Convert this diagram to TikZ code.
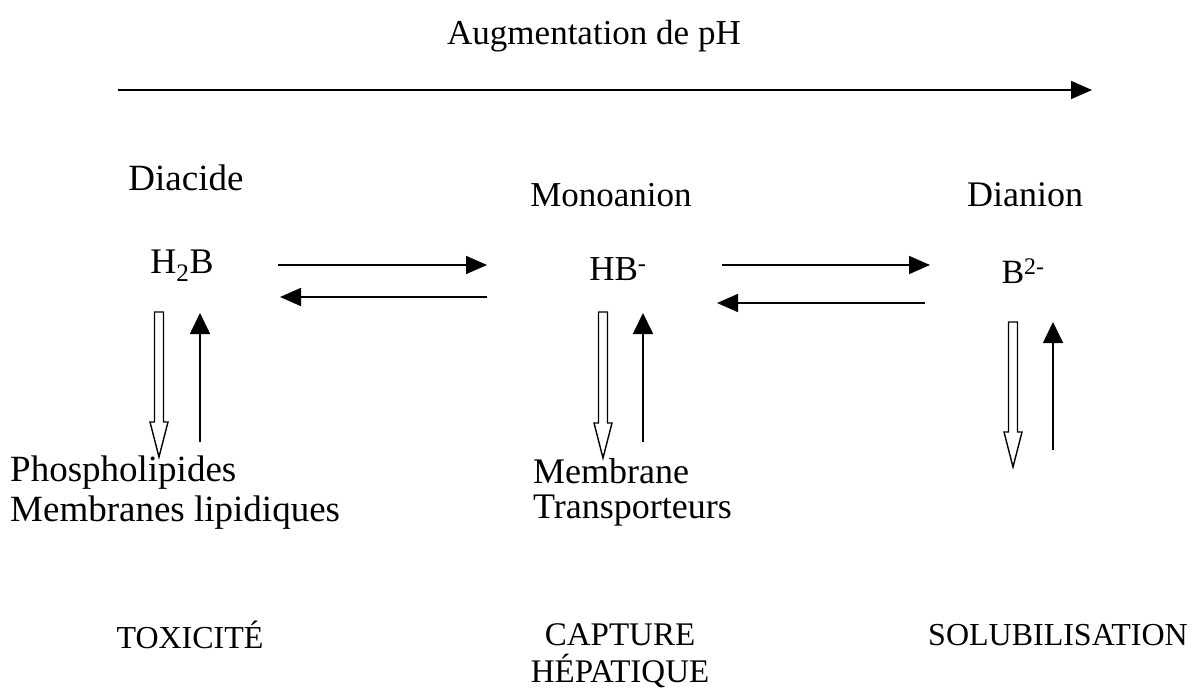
\documentclass[tikz,border=0pt]{standalone}
\usepackage{fontspec}
\setmainfont{Liberation Serif}
\usetikzlibrary{arrows.meta}
\newcommand{\fs}[1]{\fontsize{#1}{#1}\selectfont}
\tikzset{
  lbl/.style={inner sep=0pt},
  lblL/.style={lbl, anchor=west},
  thinarrow/.style={line width=1.7pt, -{Triangle[length=21pt,width=18pt]}},
  uparrow/.style={line width=1.7pt, -{Triangle[length=21pt,width=20pt]}},
  hollow/.style={line width=1.4pt, fill=white, line join=miter},
}
\newcommand{\hollowdown}[3]{% x, ytop, ybot
  \draw[hollow] (#1-4.5,#2) -- (#1+4.5,#2) -- (#1+4.5,#3-35) -- (#1+9,#3-35) -- (#1,#3) -- (#1-9,#3-35) -- (#1-4.5,#3-35) -- cycle;}
\begin{document}
\begin{tikzpicture}[x=1pt,y=-1pt]
\useasboundingbox[fill=white] (0,0) rectangle (1194,690);
% title and pH arrow
\node[lbl, font=\fs{35}] (title) at (594,36) {Augmentation de pH};
\coordinate (phA) at (118,90);
\coordinate (phB) at (1092,90);
\draw[thinarrow] (phA) -- (phB);
% species names
\node[lbl, font=\fs{37}] (diacide) at (186,178) {Diacide};
\node[lbl, font=\fs{35}] (mono) at (611,195) {Monoanion};
\node[lbl, font=\fs{36}] (dian) at (1025,195) {Dianion};
% species
\node[lbl, font=\fs{36}] (h2b) at (182,266) {H\textsubscript{2}B};
\node[lbl, font=\fs{35}] (hb) at (618,269) {HB\textsuperscript{-}};
\node[lbl, font=\fs{34}] (b2) at (1023,271) {B\textsuperscript{2-}};
% equilibrium arrows
\coordinate (a1s) at (278,265); \coordinate (a1e) at (487,265);
\coordinate (a2s) at (487,297); \coordinate (a2e) at (280,297);
\coordinate (a3s) at (722,265); \coordinate (a3e) at (930,265);
\coordinate (a4s) at (925,303); \coordinate (a4e) at (717,303);
\draw[thinarrow] (a1s) -- (a1e);
\draw[thinarrow] (a2s) -- (a2e);
\draw[thinarrow] (a3s) -- (a3e);
\draw[thinarrow] (a4s) -- (a4e);
% vertical arrows
\hollowdown{159}{312}{457}
\hollowdown{603}{312}{458}
\hollowdown{1013}{322}{467}
\coordinate (u1s) at (200,442); \coordinate (u1e) at (200,313);
\coordinate (u2s) at (643,442); \coordinate (u2e) at (643,313);
\coordinate (u3s) at (1053,450); \coordinate (u3e) at (1053,322);
\draw[uparrow] (u1s) -- (u1e);
\draw[uparrow] (u2s) -- (u2e);
\draw[uparrow] (u3s) -- (u3e);
% membrane labels
\node[lblL, font=\fs{37}] (phos) at (10,473) {Phospholipides};
\node[lblL, font=\fs{37}] (memb) at (10,513) {Membranes lipidiques};
\node[lblL, font=\fs{36}] (mem2) at (533,471) {Membrane};
\node[lblL, font=\fs{36}] (trans) at (533,511) {Transporteurs};
% outcomes
\node[lbl, font=\fs{32}] (tox) at (190,635) {TOXICITÉ};
\node[lbl, font=\fs{33}] (capt) at (620,635) {CAPTURE};
\node[lbl, font=\fs{33}] (hepa) at (620,671) {HÉPATIQUE};
\node[lbl, font=\fs{32}] (solu) at (1058,635) {SOLUBILISATION};
\end{tikzpicture}
\end{document}
